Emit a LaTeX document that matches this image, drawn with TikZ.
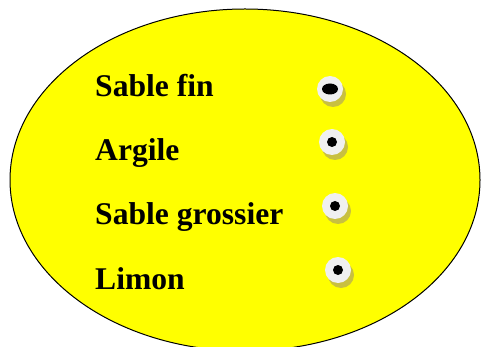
\documentclass[tikz,border=0pt]{standalone}
\usepackage{fontspec}
\setmainfont{Liberation Serif}
\definecolor{fond}{RGB}{255,255,0}
\definecolor{ombre}{RGB}{200,192,64}
\definecolor{blanc}{RGB}{240,240,240}
\tikzset{
    sol/.style={anchor=base west, font=\bfseries\fontsize{31.6}{36}\selectfont, inner sep=0pt},
    trou/.style={circle, fill=blanc, minimum size=26pt, inner sep=0pt},
}
\begin{document}
\begin{tikzpicture}[x=1pt, y=-1pt]
    \useasboundingbox (0,0) rectangle (481,347);
    \begin{scope}
        \clip (0,0) rectangle (481,347);
        \draw[fill=fond, line width=1pt] (245,180) ellipse (235 and 171);
    \end{scope}
    \node[sol] (sablefin) at (95,97) {Sable fin};
    \node[sol] (argile) at (95,161) {Argile};
    \node[sol] (grossier) at (95,225) {Sable grossier};
    \node[sol] (limon) at (95,289) {Limon};
    \foreach \n/\x/\y in {a/330/89, b/332/142, c/335/206, d/338/270} {
        \fill[ombre] (\x+3,\y+5) circle (13);
        \node[trou] (trou\n) at (\x,\y) {};
    }
    \fill (troua) ellipse (8 and 5.5);
    \foreach \n in {b,c,d}
        \fill (trou\n) circle (5);
\end{tikzpicture}
\end{document}
